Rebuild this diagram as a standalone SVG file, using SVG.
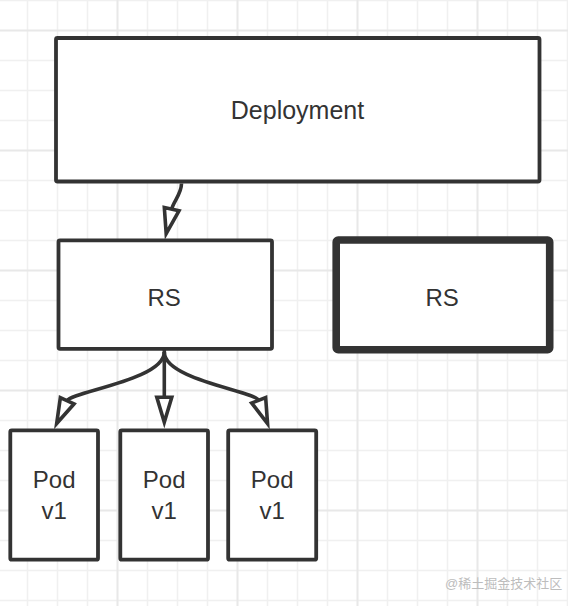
<svg xmlns="http://www.w3.org/2000/svg" width="568" height="606" viewBox="0 0 568 606">
<style>
.minor{stroke:#f0f0f0;stroke-width:1.5;fill:none}
.major{stroke:#e8e8e8;stroke-width:2;fill:none}
.box{fill:#ffffff;stroke:#333333;stroke-width:3.8}
.bold{fill:#ffffff;stroke:#333333;stroke-width:7.6}
.lbl{font-family:"Liberation Sans",Arial,Helvetica,sans-serif;font-size:24px;fill:#333333;text-anchor:middle}
.big{font-size:25px}
.conn{fill:none;stroke:#333333;stroke-width:3.6}
.wm{font-family:"Liberation Sans","Noto Sans CJK SC",sans-serif;font-size:13px;fill:#bdbdbd}
</style>
<defs>
<marker id="open" markerUnits="userSpaceOnUse" orient="auto" refX="0" refY="0" markerWidth="40" markerHeight="30" viewBox="-5 -15 40 30" overflow="visible">
<path d="M0,-7.5 L25,0 L0,7.5 Z" fill="#ffffff" stroke="#333333" stroke-width="3.6" stroke-linejoin="miter" stroke-miterlimit="10"/>
</marker>
</defs>
<rect x="0" y="0" width="568" height="606" fill="#ffffff"/>
<g id="grid">
<path class="minor" d="M27.5,0V606M57.5,0V606M87.5,0V606M147.5,0V606M177.5,0V606M207.5,0V606M267.5,0V606M297.5,0V606M327.5,0V606M387.5,0V606M417.5,0V606M447.5,0V606M507.5,0V606M537.5,0V606M567.5,0V606M0,0.5H568M0,60.5H568M0,90.5H568M0,120.5H568M0,180.5H568M0,210.5H568M0,240.5H568M0,300.5H568M0,330.5H568M0,360.5H568M0,420.5H568M0,450.5H568M0,480.5H568M0,540.5H568M0,570.5H568M0,600.5H568"/>
<path class="major" d="M117.5,0V606M237.5,0V606M357.5,0V606M477.5,0V606M0,30.5H568M0,150.5H568M0,270.5H568M0,390.5H568M0,510.5H568"/>
</g>
<g id="connectors">
<path class="conn" d="M181.5,183.5 C181.5,194 173.4,201.4 171.65,209.2" marker-end="url(#open)"/>
<path class="conn" d="M164.3,350 L164.3,397.3" marker-end="url(#open)"/>
<path class="conn" d="M164.3,352 C164.3,380 71.35,391.7 67.15,400.8" marker-end="url(#open)"/>
<path class="conn" d="M164.3,352 C164.3,380 255.1,391 258.65,400.3" marker-end="url(#open)"/>
</g>
<g id="deployment">
<rect class="box" x="56" y="38" width="483.5" height="143.5" rx="1.5"/>
<text class="lbl big" x="297.5" y="119">Deployment</text>
</g>
<g id="rs1">
<rect class="box" x="58.5" y="240.3" width="213.5" height="108.5" rx="1.5"/>
<text class="lbl" x="164.2" y="306">RS</text>
</g>
<g id="rs2">
<rect class="bold" x="336.2" y="240" width="213.5" height="109.7" rx="2"/>
<text class="lbl" x="442.2" y="306">RS</text>
</g>
<g id="pod1">
<rect class="box" x="10.3" y="430.3" width="87.7" height="129.4" rx="1.5"/>
<text class="lbl" x="54.2" y="488.3">Pod</text>
<text class="lbl" x="54.2" y="519.3">v1</text>
</g>
<g id="pod2">
<rect class="box" x="120.3" y="430.3" width="87.7" height="129.4" rx="1.5"/>
<text class="lbl" x="164.2" y="488.3">Pod</text>
<text class="lbl" x="164.2" y="519.3">v1</text>
</g>
<g id="pod3">
<rect class="box" x="228.2" y="430.3" width="88" height="129.4" rx="1.5"/>
<text class="lbl" x="272.2" y="488.3">Pod</text>
<text class="lbl" x="272.2" y="519.3">v1</text>
</g>
<text class="wm" x="445" y="588">@稀土掘金技术社区</text>
</svg>
